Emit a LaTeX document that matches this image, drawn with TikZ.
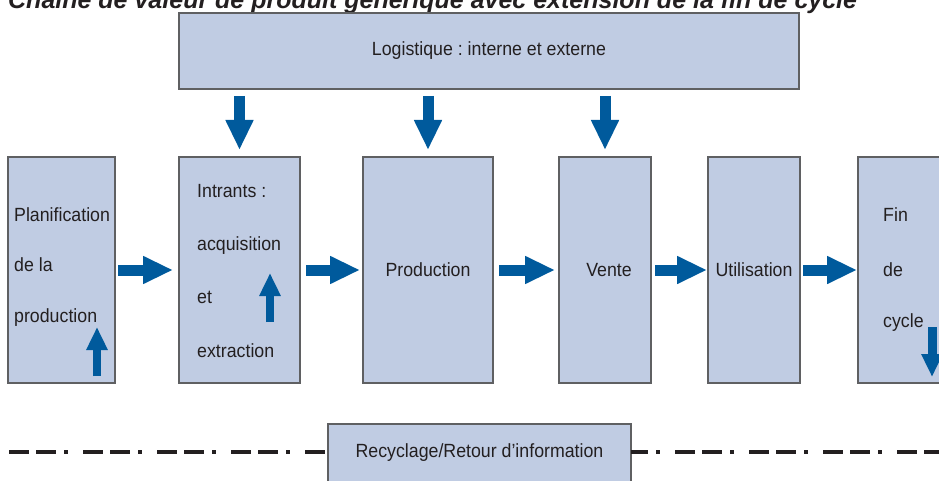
\documentclass[tikz,border=0pt]{standalone}
\usepackage{fontspec}
\setmainfont{Liberation Sans}
\newfontfamily\condfont{Liberation Sans}[FakeStretch=0.93]
\usetikzlibrary{arrows.meta,calc}
\definecolor{boxfill}{HTML}{C0CCE3}
\definecolor{boxline}{HTML}{5F6062}
\definecolor{arrowblue}{HTML}{005A9C}
\definecolor{txt}{HTML}{231F20}
\frenchspacing
\begin{document}
\begin{tikzpicture}[x=1pt,y=-1pt,
  box/.style={draw=boxline, line width=1.2pt, fill=boxfill, inner sep=0pt, outer sep=0pt, anchor=north west, text=txt, font=\condfont\fontsize{19.1}{21}\selectfont},
  lbl/.style={text=txt, font=\condfont\fontsize{19.1}{21}\selectfont, inner sep=0pt, anchor=base west},
  bigarrow/.style={draw=arrowblue, line width=11pt, -{Triangle[length=30pt,width=26pt]}},
  smallarrow/.style={draw=arrowblue, line width=8pt, -{Triangle[length=23pt,width=20pt]}},
  dashline/.style={draw=txt, line width=3.5pt, dash pattern=on 20pt off 7pt on 20pt off 8pt on 4pt off 15pt}]
\useasboundingbox (0,0) rectangle (939,481);
\clip (0,0) rectangle (939,481);

% title (partly cut off at the top, as in the reference)
\node[anchor=base west, inner sep=0pt, text=txt, font=\fontsize{25}{30}\selectfont\bfseries\itshape] (title) at (8,9) {Chaîne de valeur de produit générique avec extension de la fin de cycle};

% boxes
\node[box, minimum width=620pt, minimum height=76pt] (logi) at (179,13) {Logistique : interne et externe};
\node[box, minimum width=107pt, minimum height=226pt] (plan) at (8,157) {};
\node[box, minimum width=121pt, minimum height=226pt] (intr) at (179,157) {};
\node[box, minimum width=130pt, minimum height=226pt] (prod) at (363,157) {Production};
\node[box, minimum width=92pt, minimum height=226pt] (vente) at (559,157) {\hspace{8pt}Vente};
\node[box, minimum width=92pt, minimum height=226pt] (util) at (708,157) {Utilisation};
\node[box, minimum width=100pt, minimum height=226pt] (fin) at (858,157) {};
\node[box, minimum width=303pt, minimum height=58pt] (rec) at (328,424) {Recyclage/Retour d’information};

% multi-line labels
\node[lbl] (pl1) at (14,222) {Planification};
\node[lbl] (pl2) at (14,271) {de la};
\node[lbl] (pl3) at (14,322) {production};
\node[lbl] (in1) at (197,197) {Intrants :};
\node[lbl] (in2) at (197,250) {acquisition};
\node[lbl] (in3) at (197,303) {et};
\node[lbl] (in4) at (197,357) {extraction};
\node[lbl] (fi1) at (883,221) {Fin};
\node[lbl] (fi2) at (883,276) {de};
\node[lbl] (fi3) at (883,327) {cycle};

% horizontal flow arrows
\draw[bigarrow] ([xshift=3pt]plan.east) -- ([xshift=-6pt]intr.west);
\draw[bigarrow] ([xshift=6pt]intr.east) -- ([xshift=-3pt]prod.west);
\draw[bigarrow] ([xshift=6pt]prod.east) -- ([xshift=-4pt]vente.west);
\draw[bigarrow] ([xshift=4pt]vente.east) -- ([xshift=-1pt]util.west);
\draw[bigarrow] ([xshift=3pt]util.east) -- ([xshift=-1pt]fin.west);

% logistics arrows
\draw[bigarrow] ($(logi.south -| intr.north)+(0,7)$) -- ($(intr.north)+(0,-7)$);
\draw[bigarrow] ($(logi.south -| prod.north)+(0,7)$) -- ($(prod.north)+(0,-7)$);
\draw[bigarrow] ($(logi.south -| vente.north)+(0,7)$) -- ($(vente.north)+(0,-7)$);

% small arrows inside boxes
\coordinate (pa1) at (97,376);
\coordinate (pa2) at (97,327);
\coordinate (ia1) at (270,322);
\coordinate (ia2) at (270,273);
\coordinate (fa1) at (932,327);
\coordinate (fa2) at (932,377);
\draw[smallarrow] (pa1) -- (pa2);
\draw[smallarrow] (ia1) -- (ia2);
\draw[smallarrow, line width=9pt] (fa1) -- (fa2);

% dash-dot recycling line
\coordinate (dl) at (9,452);
\coordinate (dr) at (939,452);
\draw[dashline] (dl) -- (dl -| rec.west);
\draw[dashline, dash phase=30pt] (rec.east |- dr) -- (dr);
\end{tikzpicture}
\end{document}
